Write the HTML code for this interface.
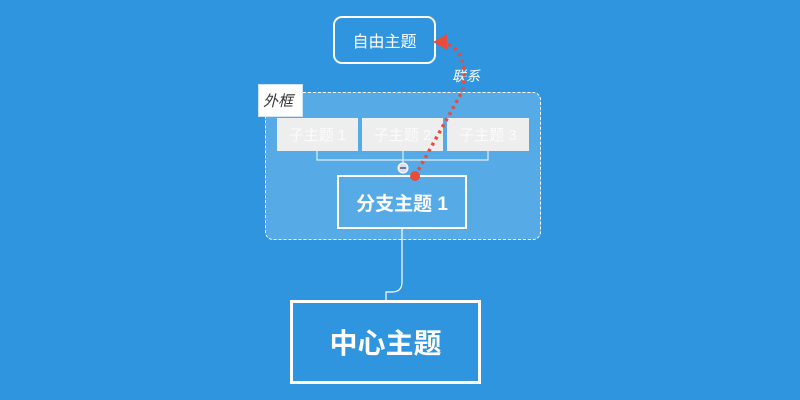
<!DOCTYPE html>
<html><head><meta charset="utf-8"><style>
body{margin:0;width:800px;height:400px;background:#2f95de;overflow:hidden;position:relative;font-family:"Liberation Sans","Noto Sans CJK SC",sans-serif}
.a{position:absolute;box-sizing:border-box;display:flex;align-items:center;justify-content:center;color:#fff}
.c{background:#eee;font-size:15px;color:#fbfbfb}
</style></head><body>
<div class="a" style="left:265px;top:92px;width:276px;height:148px;border:1px dashed #fff;border-radius:8px;background:#56aae6"></div>
<div class="a" style="left:258px;top:84px;width:45px;height:33px;background:#fff;border:1px solid #cfe3f3;color:#333;font-style:italic;font-size:15px;justify-content:flex-start;padding-left:4px">外框</div>
<div class="a c" style="left:277px;top:118px;width:81px;height:33px">子主题 1</div>
<div class="a c" style="left:362px;top:118px;width:81px;height:33px">子主题 2</div>
<div class="a c" style="left:447px;top:118px;width:82px;height:33px">子主题 3</div>
<div class="a" style="left:337px;top:175px;width:130px;height:54px;border:2px solid #fff;font-size:19px;font-weight:bold">分支主题 1</div>
<div class="a" style="left:290px;top:300px;width:191px;height:84px;border:3px solid #fff;font-size:28px;font-weight:bold">中心主题</div>
<div class="a" style="left:333px;top:16px;width:103px;height:48px;border:2px solid #fff;border-radius:9px;font-size:16px">自由主题</div>
<div class="a" style="left:450px;top:66px;width:32px;height:20px;font-size:14px;font-style:italic">联系</div>
<svg width="800" height="400" style="position:absolute;left:0;top:0">
<path d="M317 151V160H488V151M403 151V163" stroke="#fff" stroke-width="1.2" fill="none" opacity=".8"/>
<circle cx="403" cy="168" r="5" fill="#dde" stroke="#fff"/>
<line x1="400" y1="168" x2="406" y2="168" stroke="#557" stroke-width="1.5"/>
<path d="M402 229V282Q402 292 392 292H386V300" stroke="#fff" stroke-width="1.2" fill="none"/>
<path d="M415 176L462 92Q470 55 448 44" stroke="#e84c3d" stroke-width="3.5" stroke-dasharray="3 4" fill="none"/>
<circle cx="415" cy="176" r="5" fill="#e84c3d"/>
<polygon points="433,42 447,34 447,50" fill="#e84c3d"/>
</svg>
</body></html>
